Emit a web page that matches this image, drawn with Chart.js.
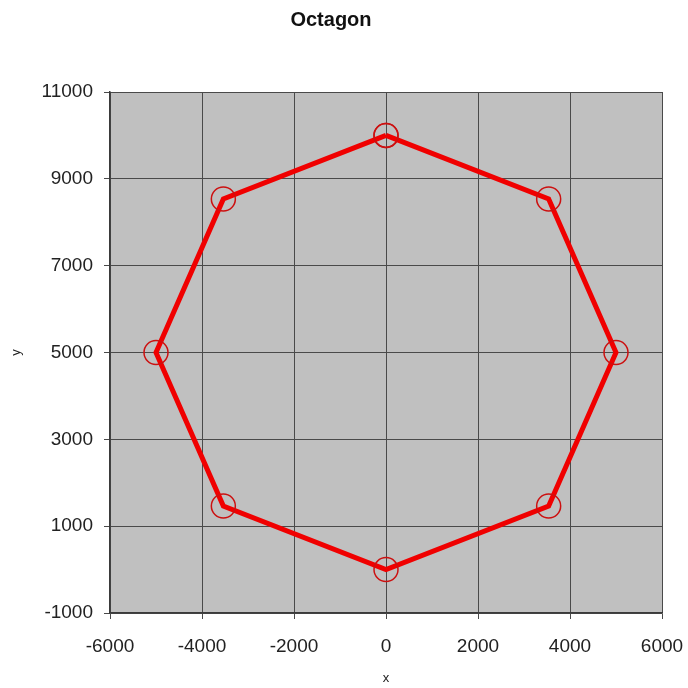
<!DOCTYPE html>
<html>
<head>
<meta charset="utf-8">
<title>Octagon</title>
<script src="https://cdn.jsdelivr.net/npm/chart.js@4/dist/chart.umd.min.js"></script>
<style>
  html, body { margin: 0; padding: 0; background: #ffffff; }
  #wrap { width: 688px; height: 688px; }
</style>
</head>
<body>
<div id="wrap"><canvas id="chart" width="688" height="688"></canvas></div>
<script>
// Vertices of the octagon, traced clockwise from the top and closed back on the first point
const xValues = [0, 3536, 5000, 3536, 0, -3536, -5000, -3536, 0];
const yValues = [10000, 8536, 5000, 1464, 0, 1464, 5000, 8536, 10000];

// Axis ranges and tick spacing
const xTicks = [-6000, -4000, -2000, 0, 2000, 4000, 6000];
const yTicks = [-1000, 1000, 3000, 5000, 7000, 9000, 11000];

const points = xValues.map((x, i) => ({ x: x, y: yValues[i] }));

// Grey plot-area fill behind the grid
const plotBackground = {
  id: 'plotBackground',
  beforeDraw(chart) {
    const { ctx, chartArea: a } = chart;
    ctx.save();
    ctx.fillStyle = '#c0c0c0';
    ctx.fillRect(a.left, a.top, a.right - a.left, a.bottom - a.top);
    ctx.restore();
  }
};

const fontFamily = '"Liberation Sans", Arial, sans-serif';
const tickFont = { family: fontFamily, size: 19 };
const gridStyle = { color: '#4a4a4a', lineWidth: 1, drawTicks: true, tickLength: 6, tickColor: '#4a4a4a' };
const plainNumber = v => String(v);

new Chart(document.getElementById('chart'), {
  type: 'scatter',
  data: {
    datasets: [{
      label: 'Octagon',
      data: points,
      showLine: true,
      borderColor: '#f00000',
      borderWidth: 5,
      pointStyle: 'circle',
      pointRadius: 12,
      pointHoverRadius: 12,
      pointBorderWidth: 1.5,
      pointBorderColor: '#cc1010',
      pointBackgroundColor: 'rgba(0,0,0,0)',
      tension: 0,
      clip: false
    }]
  },
  options: {
    responsive: false,
    animation: false,
    events: [],
    layout: { padding: { top: 0, right: 26, bottom: 0, left: 0 } },
    plugins: {
      legend: { display: false },
      tooltip: { enabled: false },
      title: {
        display: true,
        text: 'Octagon',
        color: '#111111',
        font: { family: fontFamily, size: 20, weight: 'bold' },
        padding: { top: 8, bottom: 60 }
      }
    },
    scales: {
      x: {
        type: 'linear',
        min: xTicks[0],
        max: xTicks[xTicks.length - 1],
        afterBuildTicks(scale) { scale.ticks = xTicks.map(v => ({ value: v })); },
        afterFit(scale) {
          scale.height = 75;
          // let the end labels hang into the page margin instead of shrinking the plot
          scale.paddingLeft = 0;
          scale.paddingRight = 0;
        },
        grid: gridStyle,
        border: { display: true, color: '#3a3a3a', width: 1.5 },
        ticks: { color: '#222222', font: tickFont, padding: 16, maxRotation: 0, callback: plainNumber },
        title: {
          display: true,
          text: 'x',
          color: '#222222',
          font: { family: fontFamily, size: 13 },
          padding: { top: 0, bottom: 2 }
        }
      },
      y: {
        type: 'linear',
        min: yTicks[0],
        max: yTicks[yTicks.length - 1],
        afterBuildTicks(scale) { scale.ticks = yTicks.map(v => ({ value: v })); },
        afterFit(scale) { scale.width = 110; },
        grid: gridStyle,
        border: { display: true, color: '#3a3a3a', width: 1.5 },
        ticks: { color: '#222222', font: tickFont, padding: 11, callback: plainNumber },
        title: {
          display: true,
          text: 'y',
          color: '#222222',
          font: { family: fontFamily, size: 13 },
          padding: { top: 9, bottom: 0 }
        }
      }
    }
  },
  plugins: [plotBackground]
});
</script>
</body>
</html>
